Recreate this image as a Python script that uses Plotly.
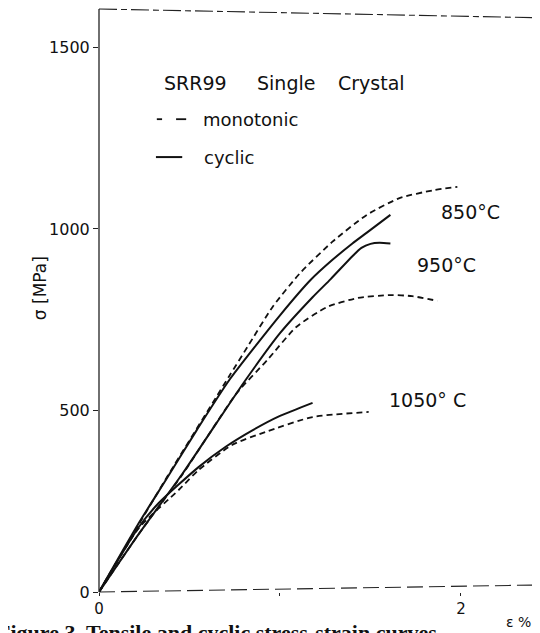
import plotly.graph_objects as go

# ---- data (strain in %, stress in MPa) ----
strain_850_cyclic = [0, 0.22, 0.37, 0.54, 0.72, 1.00, 1.17, 1.29, 1.40, 1.48, 1.61]
stress_850_cyclic = [0, 190, 309, 446, 584, 762, 860, 915, 960, 990, 1039]

strain_850_mono = [0, 0.37, 0.72, 0.82, 0.96, 1.11, 1.29, 1.48, 1.66, 1.85, 1.98]
stress_850_mono = [0, 312, 595, 675, 786, 878, 965, 1039, 1085, 1107, 1116]

strain_950_cyclic = [0, 0.22, 0.46, 0.65, 0.81, 1.00, 1.18, 1.28, 1.40, 1.45, 1.50, 1.55, 1.61]
stress_950_cyclic = [0, 160, 325, 466, 584, 713, 812, 862, 925, 948, 959, 962, 960]

strain_950_mono = [0, 0.22, 0.46, 0.76, 0.93, 1.09, 1.26, 1.43, 1.61, 1.73, 1.87]
stress_950_mono = [0, 160, 323, 547, 639, 730, 785, 810, 818, 815, 802]

strain_1050_cyclic = [0, 0.22, 0.33, 0.55, 0.70, 0.85, 1.00, 1.18]
stress_1050_cyclic = [0, 179, 245, 344, 400, 446, 485, 521]

strain_1050_mono = [0, 0.22, 0.44, 0.55, 0.735, 0.92, 1.18, 1.49]
stress_1050_mono = [0, 176, 281, 336, 405, 441, 482, 496]

y_tick_values = [0, 500, 1000, 1500]
y_tick_labels = ["0", "500", "1000", "1500"]
x_tick_values = [0, 1, 2]
x_tick_labels = ["0", "", "2"]

temp_labels = ["850°C", "950°C", "1050° C"]
temp_label_x = [1.88, 1.745, 1.59]
temp_label_y = [1047, 901, 529]

INK = "#111111"
FONT = "DejaVu Sans"

fig = go.Figure()

def add_curve(x, y, dashed):
    fig.add_trace(go.Scatter(
        x=x, y=y, mode="lines",
        line=dict(color=INK, width=1.8 if dashed else 2.0,
                  dash="6px,4px" if dashed else "solid",
                  shape="spline", smoothing=0.6),
        showlegend=False, hoverinfo="skip"))

add_curve(strain_850_mono, stress_850_mono, True)
add_curve(strain_950_mono, stress_950_mono, True)
add_curve(strain_1050_mono, stress_1050_mono, True)
add_curve(strain_850_cyclic, stress_850_cyclic, False)
add_curve(strain_950_cyclic, stress_950_cyclic, False)
add_curve(strain_1050_cyclic, stress_1050_cyclic, False)

annotations = []
for t, x, y in zip(temp_labels, temp_label_x, temp_label_y):
    annotations.append(dict(x=x, y=y, xref="x", yref="y", text=t, showarrow=False,
                            xanchor="left", yanchor="middle",
                            font=dict(family=FONT, size=19, color=INK)))

# legend block (in paper coords)
for word, xl in [("SRR99", 0.144), ("Single", 0.356), ("Crystal", 0.541)]:
    annotations.append(dict(x=xl, y=0.873, xref="paper", yref="paper", text=word,
                            showarrow=False, xanchor="left", yanchor="middle",
                            font=dict(family=FONT, size=19, color=INK)))
annotations.append(dict(x=0.233, y=0.811, xref="paper", yref="paper", text="monotonic",
                        showarrow=False, xanchor="left", yanchor="middle",
                        font=dict(family=FONT, size=18, color=INK)))
annotations.append(dict(x=0.235, y=0.746, xref="paper", yref="paper", text="cyclic",
                        showarrow=False, xanchor="left", yanchor="middle",
                        font=dict(family=FONT, size=18, color=INK)))

# axis titles
annotations.append(dict(x=-0.135, y=0.521, xref="paper", yref="paper", text="σ [MPa]",
                        showarrow=False, textangle=-90, xanchor="center", yanchor="middle",
                        font=dict(family=FONT, size=17, color=INK)))
annotations.append(dict(x=0.958, y=-0.051, xref="paper", yref="paper", text="ε %",
                        showarrow=False, xanchor="center", yanchor="middle",
                        font=dict(family=FONT, size=14, color=INK)))
# caption (cut off by the bottom edge, as in the scan)
annotations.append(dict(x=-0.237, y=-0.045, xref="paper", yref="paper",
                        text="<b>Figure 3  Tensile and cyclic stress-strain curves</b>",
                        showarrow=False, xanchor="left", yanchor="top",
                        font=dict(family="Liberation Serif", size=22, color=INK)))

shapes = [
    dict(type="line", xref="paper", yref="paper", x0=0, x1=0, y0=0, y1=1,
         line=dict(color="#222", width=1.3)),
    dict(type="line", xref="paper", yref="paper", x0=0, x1=1, y0=1, y1=0.985,
         line=dict(color="#222", width=1.1, dash="18px,4px,6px,4px")),
    dict(type="line", xref="paper", yref="paper", x0=0, x1=1, y0=0, y1=0.012,
         line=dict(color="#222", width=1.1, dash="16px,6px")),
    dict(type="line", xref="paper", yref="paper", x0=1, x1=1, y0=0.012, y1=0.33,
         line=dict(color="#222", width=1.2)),
    # legend samples
    dict(type="line", xref="paper", yref="paper", x0=0.132, x1=0.144, y0=0.811, y1=0.811,
         line=dict(color=INK, width=1.8)),
    dict(type="line", xref="paper", yref="paper", x0=0.176, x1=0.199, y0=0.811, y1=0.811,
         line=dict(color=INK, width=1.8)),
    dict(type="line", xref="paper", yref="paper", x0=0.130, x1=0.190, y0=0.746, y1=0.746,
         line=dict(color=INK, width=2.0)),
]

# The page body adds an 8px margin, so the figure is sized to fit the 540x633 window.
fig.update_layout(
    width=532, height=625,
    margin=dict(l=91, r=3, t=1, b=41),
    paper_bgcolor="white", plot_bgcolor="white",
    annotations=annotations, shapes=shapes,
    xaxis=dict(range=[0, 2.42], tickvals=x_tick_values, ticktext=x_tick_labels,
               ticks="outside", ticklen=3, tickcolor="#222", showgrid=False,
               zeroline=False, showline=False,
               tickfont=dict(family=FONT, size=15, color=INK)),
    yaxis=dict(range=[0, 1606], tickvals=y_tick_values, ticktext=y_tick_labels,
               ticks="outside", ticklen=5, tickcolor="#222", showgrid=False,
               zeroline=False, showline=False,
               tickfont=dict(family=FONT, size=16, color=INK)),
)

fig.write_html("out.html")
